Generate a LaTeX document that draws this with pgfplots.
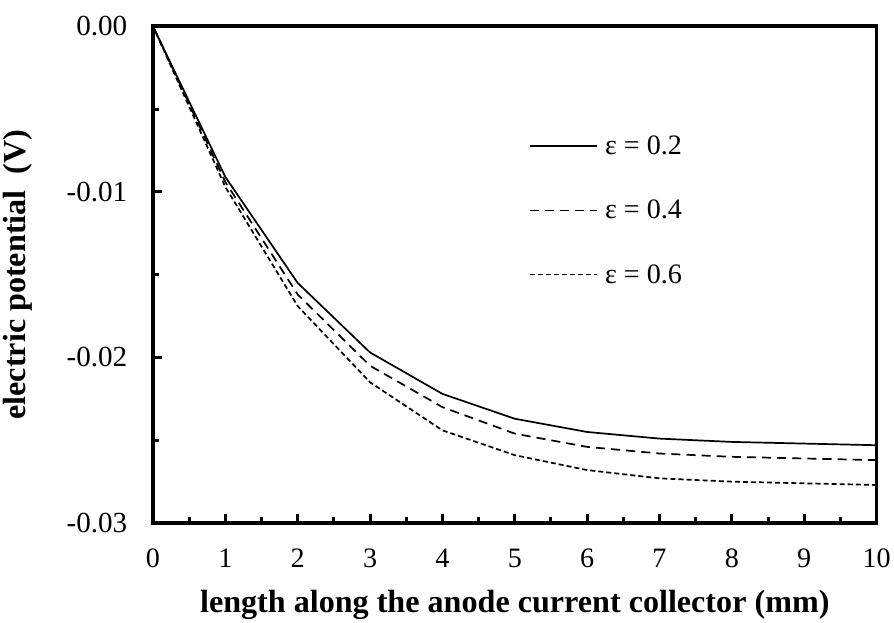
\documentclass[border=0pt]{standalone}
\usepackage{fontspec}
\setmainfont{Liberation Serif}
\usepackage{pgfplots}
\pgfplotsset{compat=1.18}

\begin{document}
\begin{tikzpicture}
\begin{axis}[scale only axis, width=718bp, height=493bp,
  xmin=0, xmax=10, ymin=-0.03, ymax=0,
  axis line style={line width=3.6pt},
  xtick={0,1,...,10}, minor xtick={0.5,1.5,...,9.5},
  ytick={-0.03,-0.02,-0.01,0}, yticklabels={-0.03,-0.02,-0.01,0.00},
  scaled y ticks=false,
  minor ytick={-0.025,-0.015,-0.005},
  tick align=inside, xtick pos=left, ytick pos=left,
  major tick length=9bp, minor tick length=6bp,
  every tick/.style={black, line width=3pt},
  ticklabel style={font=\fontsize{28}{32}\selectfont},
  yticklabel style={font=\fontsize{29}{33}\selectfont},
  /pgf/number format/assume math mode=true,
  xticklabel style={yshift=-22bp}, yticklabel style={xshift=-22bp},
  xlabel={\textbf{length along the anode current collector (mm)}},
  ylabel={\textbf{electric potential\ \ (V)}},
  label style={font=\fontsize{32}{36}\selectfont},
  xlabel style={yshift=-15bp}, ylabel style={yshift=27bp},
  legend style={draw=none, fill=none, at={(0.515,0.787)}, anchor=north west,
    font=\fontsize{28}{32}\selectfont, row sep=39.5bp},
  legend cell align=left,
  legend image code/.code={\draw[#1] (0bp,0bp) -- (67bp,0bp); \path (72bp,0bp);},
  every axis plot/.append style={black, line width=1.7pt}]
\addplot[solid] coordinates {(0,0)(1,-0.0091)(2,-0.0155)(3,-0.0197)(4,-0.0222)(5,-0.0237)(6,-0.0245)(7,-0.0249)(8,-0.0251)(9,-0.0252)(10,-0.0253)};
\addlegendentry{ε = 0.2}
\addplot[dash pattern=on 9bp off 6bp] coordinates {(0,0)(1,-0.0094)(2,-0.0162)(3,-0.0205)(4,-0.0230)(5,-0.0246)(6,-0.0254)(7,-0.0258)(8,-0.0260)(9,-0.0261)(10,-0.0262)};
\addlegendentry{ε = 0.4}
\addplot[dash pattern=on 5bp off 3bp] coordinates {(0,0)(1,-0.0097)(2,-0.0169)(3,-0.0215)(4,-0.0244)(5,-0.0259)(6,-0.0268)(7,-0.0273)(8,-0.0275)(9,-0.0276)(10,-0.0277)};
\addlegendentry{ε = 0.6}
\coordinate (topleft) at (rel axis cs:0,1);
\end{axis}
\path (topleft) ++(0,26bp);
\end{tikzpicture}
\end{document}
